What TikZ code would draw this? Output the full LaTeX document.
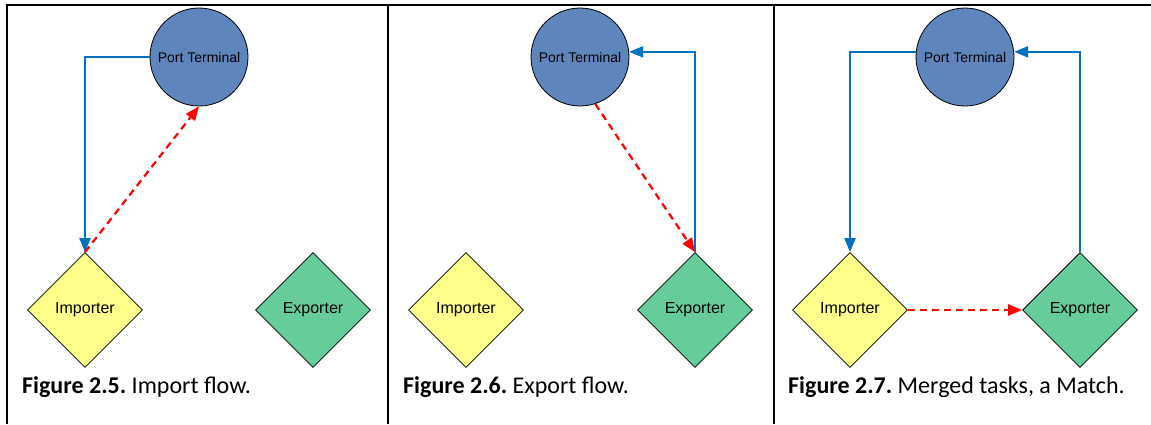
\documentclass[tikz,border=0pt]{standalone}
\usepackage{fontspec}
\setmainfont{Carlito}
\newfontfamily\shapefont{Liberation Sans}
\usetikzlibrary{shapes.geometric,arrows.meta,positioning}
\definecolor{portblue}{RGB}{94,134,189}
\definecolor{impyellow}{RGB}{255,255,140}
\definecolor{expgreen}{RGB}{102,204,153}
\definecolor{flowblue}{RGB}{0,112,192}
\tikzset{
  port/.style={circle,draw=black,line width=0.8pt,fill=portblue,minimum size=98pt,inner sep=0pt,font=\shapefont\fontsize{14}{16}\selectfont},
  trader/.style={diamond,draw=black,line width=0.8pt,aspect=1,minimum size=115pt,inner sep=0pt,font=\shapefont\fontsize{16}{18}\selectfont},
  flow/.style={draw=flowblue,line width=2.2pt,-{Triangle[length=14pt,width=11pt]}},
  match/.style={draw=red,line width=2.2pt,dash pattern=on 7pt off 5pt,-{Triangle[length=14pt,width=11pt]}},
  caption/.style={anchor=base west,inner sep=0pt,font=\fontsize{24}{26}\selectfont\frenchspacing}
}
\begin{document}
\begin{tikzpicture}[x=1pt,y=-1pt,on grid]
  \useasboundingbox (0,0) rectangle (1151,424);
  % table rules
  \draw[line width=2pt] (7,424) -- (7,5) -- (1151,5);
  \draw[line width=2pt] (388,5) -- (388,424);
  \draw[line width=2pt] (774,5) -- (774,424);

  % import flow
  \node[trader,fill=impyellow] (imp1) at (85,310) {Importer};
  \node[port,above right=253pt and 114pt of imp1] (pt1) {Port Terminal};
  \node[trader,fill=expgreen,right=228pt of imp1] (exp1) {Exporter};
  \draw[flow] (pt1.west) -| (imp1.north);
  \draw[match] (imp1.north) -- (pt1.south);
  \node[caption] (cap1) at (22,393) {\textbf{Figure 2.5.} Import flow.};

  % export flow
  \node[trader,fill=impyellow] (imp2) at (466,310) {Importer};
  \node[port,above right=253pt and 114pt of imp2] (pt2) {Port Terminal};
  \node[trader,fill=expgreen,right=229pt of imp2] (exp2) {Exporter};
  \draw[flow] (exp2.north) |- (pt2.6);
  \draw[match] (pt2.-72) -- (exp2.north);
  \node[caption] (cap2) at (403,393) {\textbf{Figure 2.6.} Export flow.};

  % merged
  \node[trader,fill=impyellow] (imp3) at (850,310) {Importer};
  \node[port,above right=253pt and 115pt of imp3] (pt3) {Port Terminal};
  \node[trader,fill=expgreen,right=230pt of imp3] (exp3) {Exporter};
  \draw[flow] (pt3.174) -| (imp3.north);
  \draw[flow] (exp3.north) |- (pt3.6);
  \draw[match] (imp3.east) -- (exp3.west);
  \node[caption] (cap3) at (788,393) {\textbf{Figure 2.7.} Merged tasks, a Match.};
\end{tikzpicture}
\end{document}
